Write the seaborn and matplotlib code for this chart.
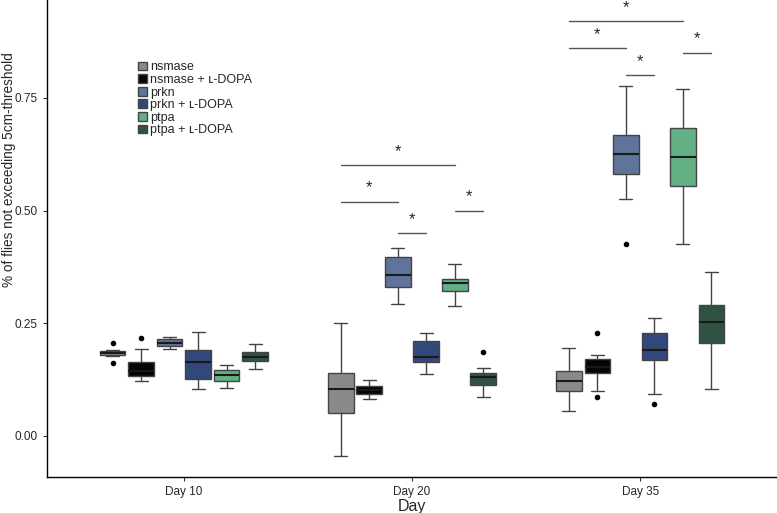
import matplotlib
matplotlib.use("Agg")
import matplotlib.pyplot as plt
import pandas as pd
import seaborn as sns

# categories
days = ["Day 10", "Day 20", "Day 35"]
groups = ["nsmase", "nsmase + ʟ-DOPA", "prkn", "prkn + ʟ-DOPA", "ptpa", "ptpa + ʟ-DOPA"]
colors = ["#8a8a8a", "#050505", "#60739a", "#33487a", "#63b084", "#2f5243"]

# observations per group (estimated from the figure), order follows `groups`
day10_values = [
    [0.162, 0.178, 0.180, 0.182, 0.184, 0.186, 0.188, 0.190, 0.207],
    [0.122, 0.128, 0.133, 0.140, 0.145, 0.152, 0.164, 0.193, 0.218],
    [0.193, 0.197, 0.200, 0.204, 0.207, 0.211, 0.215, 0.218, 0.220],
    [0.104, 0.115, 0.126, 0.148, 0.165, 0.178, 0.190, 0.210, 0.231],
    [0.107, 0.115, 0.123, 0.130, 0.135, 0.140, 0.146, 0.152, 0.157],
    [0.149, 0.158, 0.166, 0.171, 0.176, 0.181, 0.186, 0.195, 0.204],
]
day20_values = [
    [-0.044, 0.010, 0.052, 0.080, 0.104, 0.120, 0.139, 0.190, 0.251],
    [0.083, 0.088, 0.092, 0.097, 0.102, 0.106, 0.110, 0.117, 0.124],
    [0.292, 0.312, 0.330, 0.345, 0.357, 0.378, 0.398, 0.408, 0.418],
    [0.137, 0.150, 0.164, 0.170, 0.176, 0.195, 0.211, 0.220, 0.228],
    [0.289, 0.305, 0.321, 0.332, 0.340, 0.345, 0.349, 0.365, 0.381],
    [0.086, 0.100, 0.113, 0.123, 0.131, 0.135, 0.139, 0.151, 0.186],
]
day35_values = [
    [0.055, 0.078, 0.099, 0.112, 0.122, 0.133, 0.144, 0.170, 0.195],
    [0.086, 0.099, 0.139, 0.146, 0.153, 0.162, 0.171, 0.179, 0.228],
    [0.426, 0.525, 0.580, 0.603, 0.625, 0.645, 0.667, 0.720, 0.777],
    [0.072, 0.092, 0.168, 0.180, 0.190, 0.210, 0.228, 0.245, 0.261],
    [0.425, 0.490, 0.554, 0.590, 0.618, 0.650, 0.684, 0.725, 0.769],
    [0.105, 0.160, 0.206, 0.230, 0.252, 0.270, 0.291, 0.330, 0.363],
]

# significance brackets: day index, from group, to group, height
sig_day = [1, 1, 1, 1, 2, 2, 2, 2]
sig_from = [0, 0, 2, 4, 0, 0, 2, 4]
sig_to = [4, 2, 3, 5, 4, 2, 3, 5]
sig_y = [0.60, 0.52, 0.45, 0.50, 0.92, 0.86, 0.80, 0.85]

# long table
rows = []
for day, values in zip(days, [day10_values, day20_values, day35_values]):
    for grp, obs in zip(groups, values):
        for v in obs:
            rows.append({"day": day, "group": grp, "value": v})
df = pd.DataFrame(rows)

sns.set_style("white")
plt.rcParams["font.family"] = ["Liberation Sans", "DejaVu Sans"]

fig = plt.figure(figsize=(7.77, 5.13), dpi=100)
ax = fig.add_axes([0.0605, 0.0702, 0.9395, 0.9298])

box_width = 0.75
sns.boxplot(data=df, x="day", y="value", hue="group", order=days, hue_order=groups,
            palette=colors, width=box_width, gap=0.1, linewidth=1, linecolor="#444444",
            fliersize=3, saturation=1,
            flierprops=dict(marker="o", markerfacecolor="black", markeredgecolor="black"),
            medianprops=dict(color="#1a1a1a", linewidth=1.5), ax=ax)

# brackets with stars
slot = box_width / len(groups)
for d, g1, g2, y in zip(sig_day, sig_from, sig_to, sig_y):
    x1 = d + (g1 - 2.5) * slot
    x2 = d + (g2 - 2.5) * slot
    ax.plot([x1, x2], [y, y], color="#555555", lw=1)
    ax.text((x1 + x2) / 2, y + 0.014, "*", ha="center", va="bottom", fontsize=12)

ax.set_xlim(-0.6, 2.6)
ax.set_ylim(-0.091, 0.967)
ax.set_yticks([0.0, 0.25, 0.5, 0.75])
ax.set_yticklabels(["0.00", "0.25", "0.50", "0.75"])
ax.set_xlabel("Day", fontsize=11.5, labelpad=1)
ax.set_ylabel("% of flies not exceeding 5cm-threshold", fontsize=9.8)
ax.yaxis.set_label_coords(-0.042, 0.644)
ax.tick_params(axis="both", labelsize=8.5, length=3, width=0.8, color="#333333", direction="out",
               left=True, bottom=True)
for side in ["top", "right"]:
    ax.spines[side].set_visible(False)
for side in ["left", "bottom"]:
    ax.spines[side].set_color("black")
    ax.spines[side].set_linewidth(1)

handles, labels = ax.get_legend_handles_labels()
ax.legend(handles, labels, loc="upper left", bbox_to_anchor=(0.118, 0.882), frameon=False,
          fontsize=9, handlelength=0.7, handleheight=0.7, handletextpad=0.25,
          labelspacing=0.05, borderaxespad=0)

fig.savefig("out.png", dpi=100)
